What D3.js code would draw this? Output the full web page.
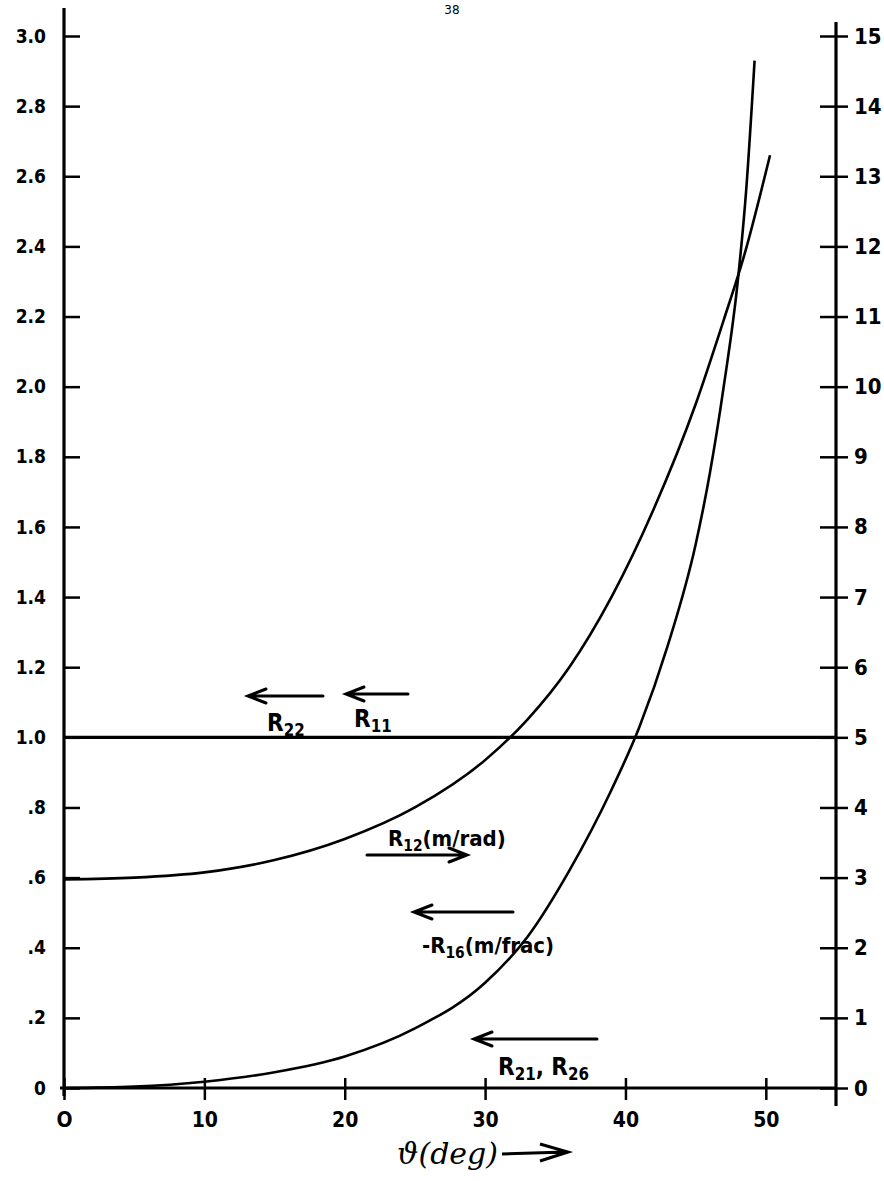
<!DOCTYPE html>
<html>
<head>
<meta charset="utf-8">
<script src="https://cdn.jsdelivr.net/npm/d3@7"></script>
<style>
  body { margin: 0; background: #fff; }
  svg { display: block; }
  .lbl { font-family: "DejaVu Sans Condensed", "DejaVu Sans", sans-serif; font-weight: bold; fill: #000; }
  .note { font-family: "DejaVu Sans Condensed", "DejaVu Sans", sans-serif; font-weight: bold; fill: #000; }
</style>
</head>
<body>
<div id="chart"></div>
<script>
// values, angle in degrees
var thetaTicks = [0, 10, 20, 30, 40, 50];
var thetaLabels = ["O", "10", "20", "30", "40", "50"];
var leftTicks = [0, 0.2, 0.4, 0.6, 0.8, 1.0, 1.2, 1.4, 1.6, 1.8, 2.0, 2.2, 2.4, 2.6, 2.8, 3.0];
var leftLabels = ["0", ".2", ".4", ".6", ".8", "1.0", "1.2", "1.4", "1.6", "1.8", "2.0", "2.2", "2.4", "2.6", "2.8", "3.0"];
var rightTicks = [0, 1, 2, 3, 4, 5, 6, 7, 8, 9, 10, 11, 12, 13, 14, 15];

// R11 = R22 (flat line at 1.0 on the left scale)
var r11Theta = [0, 55];
var r11Value = [1.0, 1.0];

// R12 (m/rad)
var r12Theta = [0, 5, 10, 15, 20, 25, 30, 33, 36, 39, 42, 45, 47, 48.5, 50.3];
var r12Value = [0.595, 0.6, 0.615, 0.65, 0.71, 0.8, 0.935, 1.05, 1.2, 1.4, 1.65, 1.95, 2.19, 2.38, 2.66];

// -R16 (m/frac)
var r16Theta = [0, 5, 10, 15, 20, 25, 30, 33, 36, 39, 41, 43, 45, 46, 47, 48, 48.6, 49.2];
var r16Value = [0, 0.004, 0.018, 0.045, 0.09, 0.17, 0.3, 0.43, 0.62, 0.85, 1.03, 1.26, 1.55, 1.75, 2.0, 2.3, 2.56, 2.93];

var W = 884, H = 1181;

var svg = d3.select("#chart").append("svg")
    .attr("width", W).attr("height", H)
    .attr("viewBox", "0 0 " + W + " " + H);

var x = d3.scaleLinear().domain([0, 55]).range([64, 836]);
var yL = d3.scaleLinear().domain([0, 3]).range([1088, 36]);
var yR = d3.scaleLinear().domain([0, 15]).range([1088, 36]);

// page number
svg.append("text").attr("x", 452).attr("y", 14)
    .attr("text-anchor", "middle")
    .style("font-family", "DejaVu Sans, sans-serif").style("font-size", "12px")
    .text("38");

// left axis
var gL = svg.append("g").attr("transform", "translate(" + x(0) + ",0)")
    .call(d3.axisLeft(yL).tickValues(leftTicks)
        .tickFormat(function(d, i){ return leftLabels[i]; })
        .tickSize(12).tickPadding(6));
gL.select(".domain").remove();
gL.selectAll(".tick line").attr("x2", 16).attr("stroke-width", 2.5);
gL.selectAll(".tick text").attr("class", "lbl").style("font-size", "19px");
svg.append("line").attr("x1", x(0)).attr("x2", x(0)).attr("y1", 8).attr("y2", 1096)
    .attr("stroke", "#000").attr("stroke-width", 3.2);

// right axis
var gR = svg.append("g").attr("transform", "translate(" + x(55) + ",0)")
    .call(d3.axisRight(yR).tickValues(rightTicks).tickSize(12).tickPadding(6));
gR.select(".domain").remove();
gR.selectAll(".tick line").attr("x2", 12).attr("x1", -16).attr("stroke-width", 2.5);
gR.selectAll(".tick text").attr("class", "lbl").style("font-size", "22px");
svg.append("line").attr("x1", x(55)).attr("x2", x(55)).attr("y1", 22).attr("y2", 1106)
    .attr("stroke", "#000").attr("stroke-width", 3.2);

// bottom axis
var gB = svg.append("g").attr("transform", "translate(0," + yL(0) + ")")
    .call(d3.axisBottom(x).tickValues(thetaTicks)
        .tickFormat(function(d, i){ return thetaLabels[i]; })
        .tickSize(12).tickPadding(12));
gB.select(".domain").remove();
gB.selectAll(".tick line").attr("y1", -10).attr("stroke-width", 2.5);
gB.selectAll(".tick text").attr("class", "lbl").style("font-size", "21px");
svg.append("line").attr("x1", x(0) - 4).attr("x2", x(55)).attr("y1", yL(0)).attr("y2", yL(0))
    .attr("stroke", "#000").attr("stroke-width", 3.2);

// x axis title
svg.append("text").attr("x", 397).attr("y", 1164)
    .style("font-family", "DejaVu Serif, serif").style("font-style", "italic")
    .style("font-size", "30px").text("ϑ(deg)");
svg.append("path")
    .attr("d", "M502,1154 L566,1152 M540,1144 L568,1152 L540,1161")
    .attr("fill", "none").attr("stroke", "#000").attr("stroke-width", 3);

// curves
var line = d3.line().curve(d3.curveMonotoneX)
    .x(function(d){ return x(d[0]); })
    .y(function(d){ return yL(d[1]); });

function pairs(a, b){ return a.map(function(v, i){ return [v, b[i]]; }); }

svg.append("path").datum(pairs(r11Theta, r11Value))
    .attr("d", line).attr("fill", "none").attr("stroke", "#000").attr("stroke-width", 3.2);
svg.append("path").datum(pairs(r12Theta, r12Value))
    .attr("d", line).attr("fill", "none").attr("stroke", "#000").attr("stroke-width", 2.6);
svg.append("path").datum(pairs(r16Theta, r16Value))
    .attr("d", line).attr("fill", "none").attr("stroke", "#000").attr("stroke-width", 2.6);

// annotation arrows
function arrow(x1, x2, y, dir){
    var d = "M" + x1 + "," + y + " L" + x2 + "," + y +
        " M" + (x2 - dir * 18) + "," + (y - 7) + " L" + x2 + "," + y + " L" + (x2 - dir * 18) + "," + (y + 7);
    svg.append("path").attr("d", d).attr("fill", "none")
        .attr("stroke", "#000").attr("stroke-width", 3).attr("stroke-linecap", "round");
}
arrow(323, 248, 696, -1);
arrow(408, 346, 694, -1);
arrow(367, 467, 855, 1);
arrow(513, 414, 912, -1);
arrow(597, 474, 1039, -1);

function label(xp, yp, parts, size){
    var t = svg.append("text").attr("class", "note").attr("x", xp).attr("y", yp)
        .style("font-size", size + "px");
    parts.forEach(function(p){
        var s = t.append("tspan").text(p[0]);
        if (p[1] === "sub") s.style("font-size", (size * 0.7) + "px").attr("dy", 5);
        if (p[1] === "up") s.attr("dy", -5);
    });
}
label(267, 731, [["R"], ["22", "sub"]], 24);
label(354, 727, [["R"], ["11", "sub"]], 24);
label(388, 846, [["R"], ["12", "sub"], ["(m/rad)", "up"]], 22);
label(422, 953, [["-R"], ["16", "sub"], ["(m/frac)", "up"]], 22);
label(498, 1075, [["R"], ["21", "sub"], [", R", "up"], ["26", "sub"]], 24);
</script>
</body>
</html>
